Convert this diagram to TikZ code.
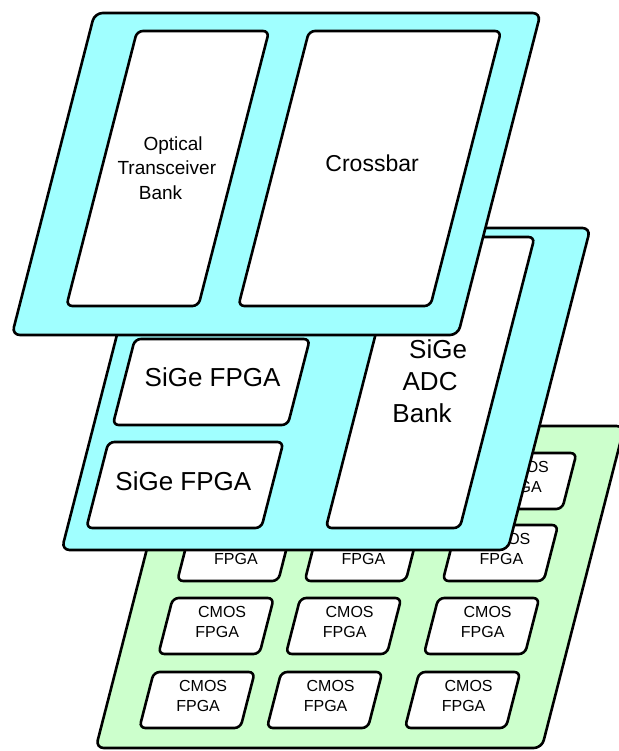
\documentclass[tikz,border=0pt]{standalone}
\usepackage{fontspec}
\setmainfont{Liberation Sans}
\usepackage{tikz}
\definecolor{boardcyan}{HTML}{A0FFFF}
\definecolor{boardgreen}{HTML}{CCFFCC}
\tikzset{
  board/.style={draw, line width=2.6pt, rounded corners=8pt, transform shape,
    inner sep=0pt, outer sep=0pt, minimum width=446pt, minimum height=322pt},
  chip/.style={draw, fill=white, line width=2.6pt, rounded corners=6pt, transform shape,
    inner sep=0pt, outer sep=0pt},
  chiptext/.style={align=center, inner sep=0pt},
}

\begin{document}
\begin{tikzpicture}[x=1pt, y=-1pt]
\useasboundingbox (0,0) rectangle (618,751);
\begin{scope}[xslant=0.257]
  % CMOS layer (bottom)
  \node[board, fill=boardgreen] (cmosboard) at (511,587) {};
  \foreach \r/\y in {1/481,2/553,3/626,4/700}
    \foreach \c/\u in {1/377,2/504.5,3/642.5} {
      \node[chip, minimum width=101pt, minimum height=56pt] (cmos-\r-\c) at (\u,\y) {};
      \node[chiptext, font=\fontsize{16}{20}\selectfont] (cmos-\r-\c-text) at (\u+2.5,\y-4)
        {\hspace*{5pt}CMOS\\FPGA\hspace*{5pt}};
    }
  % SiGe layer (middle)
  \node[board, fill=boardcyan] (sigeboard) at (426,389) {};
  \node[chip, minimum width=175pt, minimum height=86pt] (fpga1) at (309.5,382) {};
  \node[chiptext, font=\fontsize{26}{32}\selectfont] (fpga1-text) at (309.5,377) {SiGe FPGA};
  \node[chip, minimum width=175pt, minimum height=86pt] (fpga2) at (309.5,485) {};
  \node[chiptext, font=\fontsize{26}{32}\selectfont] (fpga2-text) at (307,481) {SiGe FPGA};
  \node[chip, minimum width=134pt, minimum height=291pt] (adc) at (528.5,382.5) {};
  \node[chiptext, font=\fontsize{26}{32}\selectfont] (adc-text) at (528,381)
    {\hspace*{16pt}SiGe\\ADC\\Bank\hspace*{16pt}};
  % optical layer (top)
  \node[board, fill=boardcyan] (optboard) at (321,174) {};
  \node[chip, minimum width=132pt, minimum height=275pt] (otb) at (211,168.5) {};
  \node[chiptext, font=\fontsize{19}{24.5}\selectfont] (otb-text) at (210,168)
    {\hspace*{12.5pt}Optical\\Transceiver\\Bank\hspace*{12.5pt}};
  \node[chip, minimum width=192pt, minimum height=275pt] (xbar) at (413,168.5) {};
  \node[chiptext, font=\fontsize{23}{28}\selectfont] (xbar-text) at (414,163) {Crossbar};
\end{scope}
\end{tikzpicture}
\end{document}
